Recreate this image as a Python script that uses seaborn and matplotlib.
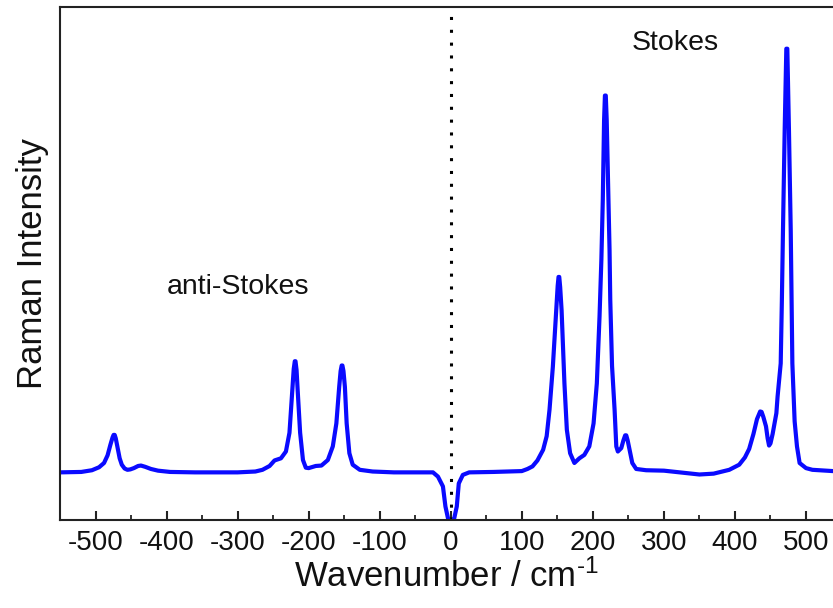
import matplotlib
matplotlib.use("Agg")
import matplotlib.pyplot as plt
import seaborn as sns
import pandas as pd
from matplotlib.ticker import MultipleLocator

# Raman spectrum (wavenumber in cm^-1, intensity in arb. units)
wavenumber = [
    -550, -520, -505, -495, -488, -483, -479, -476, -474.5, -473, -471.5, -469, -466, -463,
    -459, -455, -451, -446, -440, -436, -430, -422, -412, -395, -360, -300,
    -275, -265, -255, -248, -239, -232, -227, -223, -221, -219.5, -218.5, -217, -215.5, -212,
    -208, -204, -200, -190, -182, -173, -166, -161, -157, -155, -153.5, -152.5, -151, -149,
    -146.5, -142.7, -138, -128, -110, -80, -25, -18, -11, -7.5, -4, 0, 5, 8.5,
    11.3, 17, 26, 60, 100, 108, 115, 122, 130, 135, 139, 143.7, 148.5, 150.5, 151.7, 152.7,
    154, 156, 160, 163.4, 168, 174, 181, 188, 195, 201, 205.6, 209.4, 212, 214,
    215.8, 217, 218.2, 219.5, 222, 223.5, 224.5, 227, 230.6, 233, 235.2, 240, 243, 245.5, 247,
    249, 250.7, 255.5, 261, 275, 300, 322, 350, 370, 392, 406, 414, 420, 426, 431,
    435.5, 437.5, 440, 443.7, 446, 448, 450, 453, 458.3, 460, 464.4, 466, 467.6, 470, 472.3, 473.7, 476,
    478.5, 480.8, 484, 487.3, 491, 500, 509, 538,
]
intensity = [
    0.0, 0.1, 0.5, 1.2, 2.2, 4.0, 6.5, 8.2, 8.8, 8.8, 8.0, 5.8, 3.3, 1.8,
    0.9, 0.6, 0.7, 1.0, 1.5, 1.6, 1.3, 0.8, 0.4, 0.1, 0.0, 0.0,
    0.2, 0.6, 1.5, 2.8, 3.3, 4.9, 9.3, 19.4, 24.3, 26.1, 26.1, 24.0, 19.4, 9.3,
    2.9, 1.1, 1.0, 1.5, 1.6, 2.9, 6.1, 11.5, 20.1, 23.8, 25.1, 25.1, 23.8, 20.1,
    11.5, 4.5, 1.8, 0.6, 0.2, 0.0, 0.0, -1.0, -3.3, -8.0, -10.7, -14.0, -10.7, -8.0,
    -2.6, -0.6, 0.0, 0.1, 0.3, 0.8, 1.4, 2.8, 5.3, 8.5, 14.7, 24.8, 38.1, 43.8, 45.9, 45.9,
    43.5, 38.1, 20.9, 10.0, 4.5, 2.2, 3.3, 4.1, 6.1, 11.5, 20.9, 36.6, 50.0, 64.0,
    82.7, 88.5, 88.5, 82.7, 64.0, 52.2, 40.5, 25.0, 14.7, 6.1, 4.9, 5.7, 7.5, 8.7, 8.7,
    7.5, 6.1, 2.2, 0.8, 0.5, 0.4, 0.0, -0.5, -0.3, 0.6, 1.8, 3.5, 5.5, 9.0, 12.5,
    14.3, 14.2, 13.0, 10.8, 8.0, 6.3, 6.8, 9.0, 13.9, 17.8, 25.6, 40.0, 56.9, 80.4, 99.5, 99.5, 80.4,
    56.9, 25.6, 12.0, 6.1, 2.2, 1.0, 0.6, 0.3,
]
xtick_values = [-500, -400, -300, -200, -100, 0, 100, 200, 300, 400, 500]
xtick_labels = ["-500", "-400", "-300", "-200", "-100", "0", "100", "200", "300", "400", "500"]
annotations = ["anti-Stokes", "Stokes"]
annotation_x = [-300, 316]
annotation_y = [43.5, 100.8]

df = pd.DataFrame({"Wavenumber": wavenumber, "Intensity": intensity})

sns.set_style("ticks")
plt.rcParams["font.family"] = ["Liberation Sans", "DejaVu Sans"]
plt.rcParams["mathtext.fontset"] = "custom"
plt.rcParams["mathtext.rm"] = "Liberation Sans"
plt.rcParams["mathtext.it"] = "Liberation Sans:italic"
plt.rcParams["axes.unicode_minus"] = False

fig = plt.figure(figsize=(8.33, 6.08), dpi=100)
ax = fig.add_axes([0.072, 0.145, 0.928, 0.8435])

sns.lineplot(data=df, x="Wavenumber", y="Intensity", ax=ax, color="#0a0aff",
             linewidth=3.0, sort=False, estimator=None)
ax.axvline(0, color="black", linewidth=2.2, linestyle=(0, (1, 3.2)), zorder=1)

ax.set_xlim(-550, 538)
ax.set_ylim(-11.15, 109.3)
ax.set_xticks(xtick_values)
ax.set_xticklabels(xtick_labels)
ax.xaxis.set_minor_locator(MultipleLocator(50))
ax.set_yticks([])

for s in ["left", "top", "bottom"]:
    ax.spines[s].set_linewidth(1.5)
    ax.spines[s].set_color("#222222")
    ax.spines[s].set_visible(True)
ax.spines["right"].set_visible(False)

ax.tick_params(axis="x", which="major", direction="in", length=6.5, width=1.5,
               labelsize=20, pad=7, colors="#222222", labelcolor="#111111")
ax.tick_params(axis="x", which="minor", direction="in", length=3.5, width=1.3,
               colors="#222222")

ax.set_xlabel(r"Wavenumber / cm$^{\text{-1}}$", fontsize=25, labelpad=3, color="#111111")
ax.set_ylabel("Raman Intensity", fontsize=25, labelpad=8, color="#111111")

for t, tx, ty in zip(annotations, annotation_x, annotation_y):
    ax.text(tx, ty, t, fontsize=20.5, ha="center", va="center", color="#111111")

fig.savefig("out.png", dpi=100)
